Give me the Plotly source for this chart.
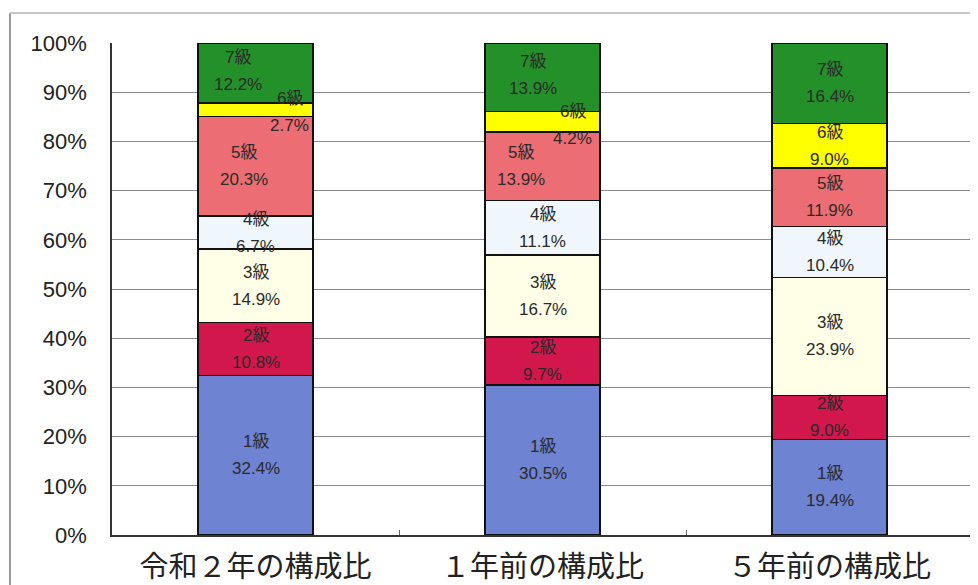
import plotly.graph_objects as go

categories = ["令和２年の構成比", "１年前の構成比", "５年前の構成比"]
grades = ["1級", "2級", "3級", "4級", "5級", "6級", "7級"]
values = {
    "1級": [32.4, 30.5, 19.4],
    "2級": [10.8, 9.7, 9.0],
    "3級": [14.9, 16.7, 23.9],
    "4級": [6.7, 11.1, 10.4],
    "5級": [20.3, 13.9, 11.9],
    "6級": [2.7, 4.2, 9.0],
    "7級": [12.2, 13.9, 16.4],
}
y_ticks = [0, 10, 20, 30, 40, 50, 60, 70, 80, 90, 100]

colors = {
    "1級": "#6E83D2",
    "2級": "#D2174C",
    "3級": "#FFFFE8",
    "4級": "#F0F7FC",
    "5級": "#EC6E74",
    "6級": "#FFFF00",
    "7級": "#24902A",
}
# label offsets in pixels (style only)
label_xshift = {
    ("7級", 0): -18, ("7級", 1): -10,
    ("6級", 0): 34, ("6級", 1): 30,
    ("5級", 0): -12, ("5級", 1): -22,
}
label_yshift = {("6級", 0): -2, ("6級", 1): -3, ("7級", 0): 2, ("7級", 1): 2}

FONT = "Liberation Sans, Arial, Noto Sans CJK JP, sans-serif"
LINE_GAP = 13.5

fig = go.Figure()
for g in grades:
    fig.add_trace(go.Bar(
        x=categories, y=values[g], name=g,
        marker=dict(color=colors[g], line=dict(color="#111111", width=1.5)),
        width=0.4, hoverinfo="skip",
    ))

annotations = []
cum = [0.0, 0.0, 0.0]
for g in grades:
    for i, c in enumerate(categories):
        v = values[g][i]
        mid = cum[i] + v / 2
        cum[i] += v
        xs = label_xshift.get((g, i), 0)
        ys = label_yshift.get((g, i), 0)
        for txt, dy in ((g, LINE_GAP), (f"{v:.1f}%", -LINE_GAP)):
            annotations.append(dict(
                x=c, y=mid, xref="x", yref="y",
                text=txt, showarrow=False,
                font=dict(family=FONT, size=17, color="#2a2a2a"),
                xshift=xs, yshift=ys + dy,
            ))

shapes = [
    # outer chart frame (partially visible)
    dict(type="line", xref="paper", yref="paper", x0=-0.1185, x1=-0.1185, y0=-0.12, y1=1.061,
         line=dict(color="#9a9a9a", width=2)),
    dict(type="line", xref="paper", yref="paper", x0=-0.1185, x1=1.01, y0=1.061, y1=1.061,
         line=dict(color="#c8c8c8", width=2)),
    # plot area right border
    dict(type="line", xref="paper", yref="paper", x0=1, x1=1, y0=0, y1=1,
         line=dict(color="#8a8a8a", width=1.5), layer="below"),
]

fig.update_layout(
    barmode="stack",
    width=970, height=577,
    margin=dict(l=104, r=5, t=35, b=50),
    paper_bgcolor="white", plot_bgcolor="white",
    showlegend=False,
    annotations=annotations,
    shapes=shapes,
    font=dict(family=FONT, color="#222222"),
)
fig.update_yaxes(
    range=[0, 100], tickvals=y_ticks, ticktext=[f"{t}%" for t in y_ticks],
    showgrid=True, gridcolor="#8c8c8c", gridwidth=1.2,
    showline=True, linecolor="#333333", linewidth=1.5,
    tickfont=dict(family=FONT, size=22, color="#222222"),
    ticklabelstandoff=19, zeroline=False, fixedrange=True, automargin=False,
)
fig.update_xaxes(
    showgrid=False, showline=True, linecolor="#333333", linewidth=1.5,
    tickfont=dict(family="Noto Sans CJK JP, sans-serif", size=29, color="#222222"),
    ticks="inside", ticklen=5, tickcolor="#666666", tickson="boundaries",
    ticklabelstandoff=5, fixedrange=True, automargin=False,
)

fig.write_html("out.html")
